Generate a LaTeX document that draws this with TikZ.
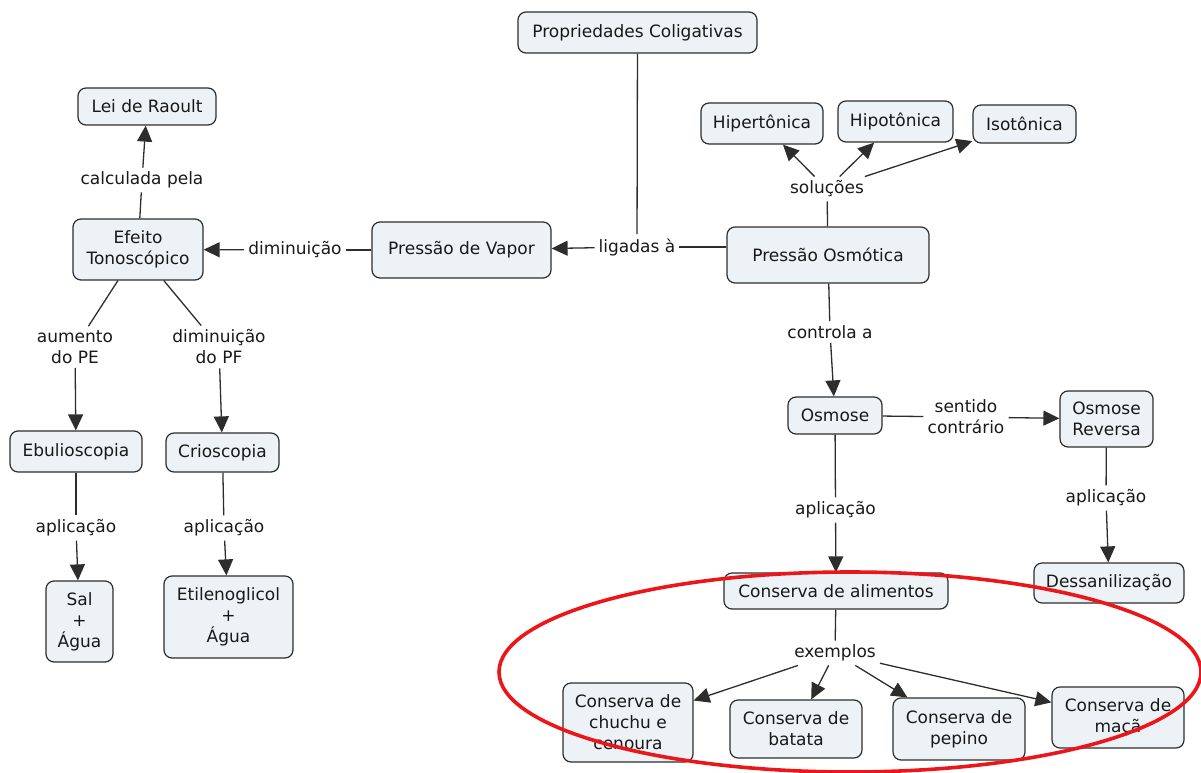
\documentclass[tikz,border=0pt]{standalone}
\usepackage{fontspec}
\setmainfont{DejaVu Sans}
\usetikzlibrary{arrows.meta}
\definecolor{boxfill}{RGB}{236,242,245}
\definecolor{edge}{RGB}{45,45,45}
\definecolor{ring}{RGB}{236,22,26}
\begin{document}
\begin{tikzpicture}[x=1pt,y=-1pt,
  every node/.style={font=\fontsize{17}{21}\selectfont, text=black!90},
  concept/.style={draw=edge, line width=1.2pt, fill=boxfill, rounded corners=8pt,
    align=center, inner xsep=6pt, inner ysep=4pt},
  linkword/.style={align=center, inner sep=4pt},
  link/.style={draw=edge, line width=1.3pt},
  arrow/.style={link, -{Triangle[length=16pt,width=15pt]}},
]
\useasboundingbox (0,0) rectangle (1201,773);

% concepts
\node[concept, minimum width=239, minimum height=41] (pc) at (637.5,32.5) {Propriedades Coligativas};
\node[concept, minimum width=138, minimum height=37] (lei) at (147,106.5) {Lei de Raoult};
\node[concept, minimum width=130, minimum height=61] (ef) at (138,249.5) {Efeito\\Tonoscópico};
\node[concept, minimum width=179, minimum height=56] (pv) at (461.5,250) {Pressão de Vapor};
\node[concept, minimum width=122, minimum height=41] (hiper) at (762,123.5) {Hipertônica};
\node[concept, minimum width=115, minimum height=41] (hipo) at (895.5,121.5) {Hipotônica};
\node[concept, minimum width=103, minimum height=38] (iso) at (1024.5,124) {Isotônica};
\node[concept, minimum width=202, minimum height=56] (po) at (828,255) {Pressão Osmótica};
\node[concept, minimum width=94, minimum height=37] (osm) at (835,415.5) {Osmose};
\node[concept, minimum width=93, minimum height=56] (osr) at (1106.5,419) {Osmose\\Reversa};
\node[concept, minimum width=150, minimum height=40] (dess) at (1109,583) {Dessanilização};
\node[concept, minimum width=224, minimum height=36] (cal) at (836,591) {Conserva de alimentos};
\node[concept, minimum width=132, minimum height=41] (ebu) at (76,451.5) {Ebulioscopia};
\node[concept, minimum width=113, minimum height=39] (crio) at (222.5,452.5) {Crioscopia};
\node[concept, minimum width=67, minimum height=81] (sal) at (79.5,621.5) {Sal\\+\\Água};
\node[concept, minimum width=129, minimum height=82] (eti) at (228.5,617) {Etilenoglicol\\+\\Água};
\node[concept, minimum width=130, minimum height=79] (chu) at (628,722.5) {Conserva de\\chuchu e\\cenoura};
\node[concept, minimum width=132, minimum height=58] (bat) at (796,729) {Conserva de\\batata};
\node[concept, minimum width=132, minimum height=62] (pep) at (959,729) {Conserva de\\pepino};
\node[concept, minimum width=132, minimum height=61] (mac) at (1118,717.5) {Conserva de\\maçã};

% linking phrases
\node[linkword] (calc) at (142,180) {calculada pela};
\node[linkword] (dimi) at (295,250) {diminuição};
\node[linkword] (lig) at (637,247) {ligadas à};
\node[linkword] (sol) at (827,189) {soluções};
\node[linkword] (ctrl) at (830,332) {controla a};
\node[linkword] (sent) at (966,417) {sentido\\contrário};
\node[linkword] (apo) at (835.5,510) {aplicação};
\node[linkword] (apr) at (1106,498) {aplicação};
\node[linkword] (aum) at (75,347) {aumento\\do PE};
\node[linkword] (dpf) at (219,347) {diminuição\\do PF};
\node[linkword] (ape) at (76,528) {aplicação};
\node[linkword] (apc) at (224,528) {aplicação};
\node[linkword] (exe) at (835,653) {exemplos};

% connections
\draw[link] (ef) -- (calc);
\draw[arrow] (calc) -- (lei);
\draw[link] (pv) -- (dimi);
\draw[arrow] (dimi) -- (ef);
\draw[link] (pc) -- (lig);
\draw[link] (po.west |- lig.east) -- (lig);
\draw[arrow] (lig) -- (pv);
\draw[link] (po) -- (sol);
\draw[arrow] (sol) -- (hiper);
\draw[arrow] (sol) -- (hipo);
\draw[arrow] (sol) -- (iso);
\draw[link] (po) -- (ctrl);
\draw[arrow] (ctrl) -- (osm);
\draw[link] (osm) -- (sent);
\draw[arrow] (sent) -- (osr);
\draw[link] (osm) -- (apo);
\draw[arrow] (apo) -- (cal);
\draw[link] (osr) -- (apr);
\draw[arrow] (apr) -- (dess);
\draw[link] (ef) -- (aum);
\draw[arrow] (aum) -- (ebu);
\draw[link] (ef) -- (dpf);
\draw[arrow] (dpf) -- (crio);
\draw[link] (ebu) -- (ape);
\draw[arrow] (ape) -- (sal);
\draw[link] (crio) -- (apc);
\draw[arrow] (apc) -- (eti);
\draw[link] (cal) -- (exe);
\draw[arrow] (exe) -- (chu);
\draw[arrow] (exe) -- (bat);
\draw[arrow] (exe) -- (pep);
\draw[arrow] (exe) -- (mac);

% red ring around the food examples
\draw[ring, line width=3.6pt] (850,672) ellipse [x radius=351pt, y radius=100pt];
\end{tikzpicture}
\end{document}
